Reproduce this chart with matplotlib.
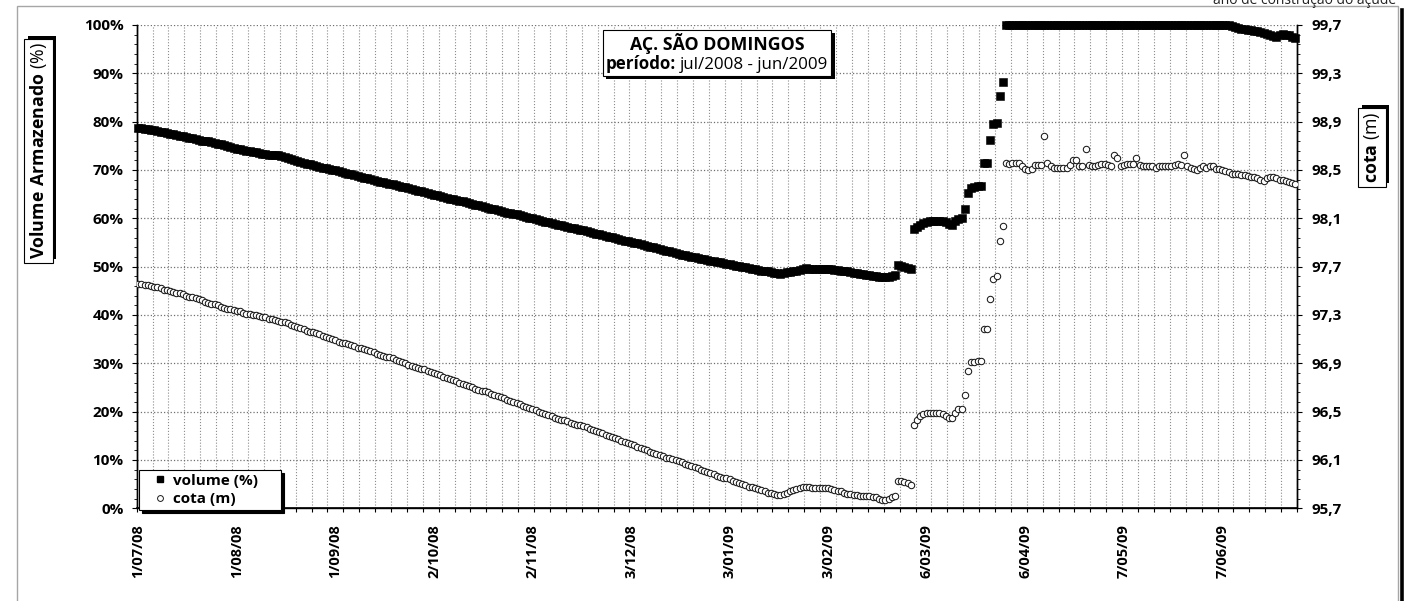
import datetime as dt
import numpy as np
import matplotlib
matplotlib.use("Agg")
import matplotlib.pyplot as plt
import matplotlib.patheffects as pe
from matplotlib.lines import Line2D
from matplotlib.patches import Rectangle
from matplotlib.offsetbox import TextArea, HPacker, VPacker, AnchoredOffsetbox

plt.rcParams['font.family'] = ['Open Sans', 'DejaVu Sans']
plt.rcParams['mathtext.fontset'] = 'custom'
plt.rcParams['mathtext.rm'] = 'Open Sans'
plt.rcParams['mathtext.bf'] = 'Open Sans:bold'

# dados diarios de 1/07/2008 a 30/06/2009
inicio = dt.date(2008, 7, 1)
rotulos_x = ["1/07/08", "1/08/08", "1/09/08", "2/10/08", "2/11/08", "3/12/08",
             "3/01/09", "3/02/09", "6/03/09", "6/04/09", "7/05/09", "7/06/09"]

volume = [
    78.6, 78.6, 78.5, 78.4, 78.3, 78.2, 78.1, 77.9, 77.8, 77.6,
    77.5, 77.4, 77.2, 77.1, 77.0, 76.9, 76.7, 76.6, 76.4, 76.3,
    76.1, 76.0, 75.9, 75.7, 75.6, 75.4, 75.3, 75.1, 74.9, 74.7,
    74.5, 74.4, 74.3, 74.2, 74.0, 73.9, 73.8, 73.7, 73.5, 73.4,
    73.3, 73.2, 73.1, 73.0, 73.0, 72.9, 72.7, 72.5, 72.3, 72.0,
    71.8, 71.6, 71.5, 71.3, 71.2, 71.0, 70.8, 70.7, 70.5, 70.4,
    70.2, 70.0, 69.9, 69.7, 69.5, 69.4, 69.2, 69.1, 68.9, 68.8,
    68.6, 68.4, 68.3, 68.1, 67.9, 67.8, 67.6, 67.5, 67.3, 67.2,
    67.0, 66.8, 66.7, 66.5, 66.4, 66.2, 66.0, 65.9, 65.7, 65.6,
    65.4, 65.2, 65.1, 64.9, 64.8, 64.6, 64.4, 64.3, 64.1, 64.0,
    63.8, 63.6, 63.5, 63.3, 63.2, 63.0, 62.8, 62.7, 62.5, 62.4,
    62.2, 62.0, 61.9, 61.7, 61.6, 61.4, 61.2, 61.1, 60.9, 60.8,
    60.6, 60.4, 60.3, 60.1, 60.0, 59.8, 59.6, 59.5, 59.3, 59.2,
    59.0, 58.9, 58.7, 58.6, 58.4, 58.3, 58.1, 57.9, 57.8, 57.6,
    57.5, 57.3, 57.2, 57.0, 56.8, 56.7, 56.5, 56.4, 56.2, 56.1,
    55.9, 55.7, 55.6, 55.4, 55.3, 55.1, 54.9, 54.8, 54.6, 54.5,
    54.3, 54.1, 54.0, 53.8, 53.7, 53.5, 53.3, 53.2, 53.0, 52.9,
    52.7, 52.5, 52.4, 52.2, 52.1, 51.9, 51.7, 51.6, 51.5, 51.4,
    51.2, 51.1, 51.0, 50.9, 50.7, 50.6, 50.5, 50.3, 50.2, 50.1,
    50.0, 49.9, 49.7, 49.6, 49.5, 49.4, 49.2, 49.1, 49.0, 48.9,
    48.7, 48.6, 48.5, 48.6, 48.8, 48.9, 49.0, 49.2, 49.3, 49.5,
    49.7, 49.6, 49.6, 49.6, 49.5, 49.5, 49.5, 49.6, 49.5, 49.4,
    49.3, 49.2, 49.1, 49.0, 48.8, 48.7, 48.6, 48.5, 48.4, 48.3,
    48.2, 48.1, 48.0, 47.9, 47.8, 47.8, 47.9, 48.1, 48.3, 50.4,
    50.2, 50.0, 49.8, 49.5, 57.7, 58.2, 58.7, 59.0, 59.3, 59.4,
    59.5, 59.5, 59.5, 59.4, 59.2, 58.9, 58.7, 59.4, 59.8, 60.0,
    61.9, 65.2, 66.2, 66.5, 66.6, 66.7, 71.4, 71.4, 76.3, 79.5,
    79.8, 85.3, 88.2,
] + [100.0] * 71 + [
    99.7, 99.5, 99.3, 99.2, 99.1, 99.0, 98.9, 98.8, 98.7, 98.5,
    98.3, 98.1, 97.9, 97.7, 97.6, 98.0, 98.1, 98.0, 98.0, 97.6,
    97.3,
]

cota = [
    97.56, 97.56, 97.55, 97.55, 97.54, 97.53, 97.53, 97.52, 97.51, 97.51,
    97.50, 97.49, 97.48, 97.48, 97.47, 97.46, 97.45, 97.45, 97.44, 97.43,
    97.42, 97.41, 97.40, 97.39, 97.39, 97.38, 97.37, 97.36, 97.35, 97.35,
    97.34, 97.33, 97.33, 97.32, 97.31, 97.31, 97.30, 97.30, 97.29, 97.28,
    97.28, 97.27, 97.27, 97.26, 97.25, 97.24, 97.24, 97.23, 97.22, 97.21,
    97.20, 97.19, 97.18, 97.17, 97.16, 97.16, 97.15, 97.14, 97.13, 97.12,
    97.11, 97.10, 97.09, 97.08, 97.07, 97.07, 97.06, 97.05, 97.04, 97.03,
    97.03, 97.02, 97.01, 97.00, 96.99, 96.98, 96.97, 96.96, 96.95, 96.95,
    96.94, 96.93, 96.92, 96.91, 96.90, 96.89, 96.88, 96.87, 96.86, 96.85,
    96.85, 96.84, 96.83, 96.82, 96.81, 96.80, 96.79, 96.78, 96.77, 96.76,
    96.75, 96.74, 96.73, 96.72, 96.71, 96.70, 96.69, 96.68, 96.67, 96.67,
    96.66, 96.65, 96.64, 96.63, 96.62, 96.61, 96.60, 96.59, 96.58, 96.57,
    96.56, 96.55, 96.54, 96.53, 96.52, 96.51, 96.50, 96.49, 96.48, 96.47,
    96.46, 96.45, 96.44, 96.43, 96.43, 96.42, 96.41, 96.40, 96.39, 96.39,
    96.38, 96.37, 96.36, 96.35, 96.34, 96.33, 96.32, 96.31, 96.30, 96.29,
    96.28, 96.27, 96.26, 96.25, 96.24, 96.23, 96.22, 96.21, 96.20, 96.19,
    96.18, 96.17, 96.16, 96.15, 96.14, 96.13, 96.12, 96.12, 96.11, 96.10,
    96.09, 96.08, 96.07, 96.06, 96.05, 96.04, 96.03, 96.02, 96.01, 96.00,
    95.99, 95.98, 95.97, 95.96, 95.95, 95.95, 95.94, 95.93, 95.92, 95.91,
    95.90, 95.89, 95.88, 95.88, 95.87, 95.86, 95.85, 95.84, 95.83, 95.83,
    95.82, 95.81, 95.81, 95.82, 95.83, 95.84, 95.85, 95.86, 95.87, 95.88,
    95.88, 95.88, 95.87, 95.87, 95.87, 95.87, 95.87, 95.87, 95.86, 95.85,
    95.84, 95.84, 95.83, 95.82, 95.82, 95.81, 95.81, 95.80, 95.80, 95.80,
    95.80, 95.79, 95.79, 95.78, 95.77, 95.77, 95.78, 95.79, 95.80, 95.93,
    95.93, 95.92, 95.91, 95.89, 96.39, 96.43, 96.46, 96.48, 96.49, 96.49,
    96.49, 96.49, 96.49, 96.48, 96.46, 96.45, 96.45, 96.49, 96.52, 96.52,
    96.64, 96.84, 96.91, 96.91, 96.92, 96.92, 97.18, 97.18, 97.43, 97.60,
    97.62, 97.91, 98.04, 98.56, 98.55, 98.56, 98.56, 98.56, 98.53, 98.51,
    98.50, 98.51, 98.54, 98.54, 98.54, 98.78, 98.56, 98.53, 98.52, 98.52,
    98.52, 98.52, 98.52, 98.54, 98.58, 98.58, 98.53, 98.53, 98.67, 98.54,
    98.53, 98.53, 98.54, 98.55, 98.55, 98.54, 98.53, 98.62, 98.60, 98.53,
    98.54, 98.55, 98.55, 98.55, 98.60, 98.54, 98.53, 98.53, 98.53, 98.53,
    98.52, 98.53, 98.53, 98.53, 98.53, 98.53, 98.54, 98.55, 98.54, 98.62,
    98.53, 98.52, 98.51, 98.50, 98.52, 98.53, 98.52, 98.53, 98.53, 98.51,
    98.51, 98.50, 98.49, 98.48, 98.47, 98.47, 98.47, 98.46, 98.46, 98.45,
    98.44, 98.44, 98.43, 98.42, 98.41, 98.43, 98.44, 98.44, 98.43, 98.42,
    98.42, 98.41, 98.40, 98.39, 98.38,
]

rotulos_pct = [0, 10, 20, 30, 40, 50, 60, 70, 80, 90, 100]
rotulos_cota = ["95,7", "96,1", "96,5", "96,9", "97,3", "97,7",
                "98,1", "98,5", "98,9", "99,3", "99,7"]

W, H = 1420, 601


def fx(px):
    return px / W


def fy(py):
    return 1 - py / H


fig = plt.figure(figsize=(W / 100, H / 100), dpi=100)
ax = fig.add_axes([fx(136.7), fy(508.3), fx(1297) - fx(136.7), fy(25) - fy(508.3)])

dias_vol = np.arange(len(volume))
dias_cota = np.arange(len(cota))
ax.plot(dias_vol, volume, ls='none', marker='s', ms=5.8, mew=0.4,
        color='black', zorder=3, clip_on=False)
ax.set_xlim(-0.5, 364.5)
ax.set_ylim(0, 100)

ax2 = ax.twinx()
ax2.plot(dias_cota, cota, ls='none', marker='o', ms=4.6, mfc='white',
         mec='#1a1a1a', mew=0.75, zorder=3)
ax2.set_ylim(95.7, 99.7)

# eixo x: rotulos a cada 31 dias, marcas a cada 5 dias
pos_x = [(dt.datetime.strptime(r, "%d/%m/%y").date() - inicio).days for r in rotulos_x]
ax.set_xticks(pos_x, rotulos_x, rotation=90, fontweight='bold', fontsize=10.5)
ax.set_xticks(np.arange(-0.5, 365, 5), minor=True)
ax.tick_params(axis='x', which='major', length=0, pad=11.5)
ax.tick_params(axis='x', which='minor', length=3, width=0.8, direction='out')

ax.set_yticks(rotulos_pct, [f"{v}%" for v in rotulos_pct], fontweight='bold', fontsize=11)
ax.set_yticks(np.arange(0, 101, 2), minor=True)
ax.tick_params(axis='y', which='major', length=3.5, width=0.8, pad=6)
ax.tick_params(axis='y', which='minor', length=2.5, width=0.6)

vals_cota = [float(r.replace(',', '.')) for r in rotulos_cota]
ax2.set_yticks(vals_cota, rotulos_cota, fontweight='bold', fontsize=11)
ax2.set_yticks(np.arange(95.7, 99.71, 0.08), minor=True)
ax2.tick_params(axis='y', which='major', length=3.5, width=0.8, pad=7)
ax2.tick_params(axis='y', which='minor', length=2.5, width=0.6)
ax2.set_xlim(-0.5, 364.5)

ax.grid(which='minor', axis='x', color='#8c8c8c', ls=':', lw=0.8)
ax.grid(which='major', axis='y', color='#707070', ls=':', lw=0.9)
ax.grid(which='major', axis='x', visible=False)
ax.set_axisbelow(True)

for a in (ax, ax2):
    a.spines['top'].set_visible(False)
    for s in ('left', 'right', 'bottom'):
        a.spines[s].set_color('black')
        a.spines[s].set_linewidth(1.0)
ax.spines['bottom'].set_linewidth(1.2)

sombra = [pe.SimplePatchShadow(offset=(2.5, -2.5), shadow_rgbFace='black', alpha=1), pe.Normal()]
sombra_rot = [pe.SimplePatchShadow(offset=(2.5, 2.5), shadow_rgbFace='black', alpha=1), pe.Normal()]

# titulo
t1 = TextArea("AÇ. SÃO DOMINGOS", textprops=dict(fontweight='bold', size=12.8))
t2 = TextArea("período:", textprops=dict(fontweight='bold', size=12.2))
t3 = TextArea("jul/2008 - jun/2009", textprops=dict(size=12.2))
linha2 = HPacker(children=[t2, t3], pad=0, sep=3, align='baseline')
caixa = VPacker(children=[t1, linha2], pad=0, sep=1, align='center')
titulo = AnchoredOffsetbox(loc='center', child=caixa, pad=0.2, borderpad=0, frameon=True,
                           bbox_to_anchor=(fx(717), fy(53)), bbox_transform=fig.transFigure)
titulo.patch.set_boxstyle('square,pad=0')
titulo.patch.set_edgecolor('black')
titulo.patch.set_linewidth(0.8)
titulo.patch.set_path_effects(sombra)
titulo.set_zorder(6)
fig.add_artist(titulo)

# rotulos dos eixos
caixa_rot = dict(boxstyle='square,pad=0.2', fc='white', ec='black', lw=0.8)
ylab = fig.text(fx(38.5), fy(151), r"$\mathbf{Volume\ Armazenado}$ (%)", rotation=90,
                ha='center', va='center', size=12.8, bbox=caixa_rot)
ylab.get_bbox_patch().set_path_effects(sombra_rot)
ylab2 = fig.text(fx(1372), fy(147.5), r"$\mathbf{cota}$ (m)", rotation=90,
                 ha='center', va='center', size=12.8, bbox=caixa_rot)
ylab2.get_bbox_patch().set_path_effects(sombra_rot)

# legenda
alcas = [Line2D([], [], ls='none', marker='s', ms=3.8, color='black'),
         Line2D([], [], ls='none', marker='o', ms=4.2, mfc='white', mec='#1a1a1a', mew=0.7)]
leg = fig.legend(alcas, ['volume (%)', 'cota (m)'], loc='lower left',
                 bbox_to_anchor=(fx(139), fy(510), fx(281) - fx(139), 0.05),
                 bbox_transform=fig.transFigure, mode='expand', borderaxespad=0,
                 fancybox=False, framealpha=1, edgecolor='black',
                 prop=dict(weight='bold', size=11), handlelength=2.2,
                 handletextpad=-0.2, borderpad=0.25, labelspacing=0.3,
                 shadow=dict(color='black', alpha=1))
leg.get_frame().set_linewidth(0.8)
leg.set_zorder(6)

# moldura do grafico
fig.add_artist(Rectangle((fx(17), -0.1), fx(1398) - fx(17), fy(6) + 0.1, fill=False,
                         ec='#a6a6a6', lw=1, transform=fig.transFigure))
fig.add_artist(Line2D([fx(1401.5)] * 2, [0, fy(10)], color='black', lw=2.6,
                      transform=fig.transFigure))
fig.text(fx(1396), fy(3.5), "ano de construção do açude", ha='right', va='baseline',
         size=10, color='#222222')

fig.savefig("out.png", dpi=100)
